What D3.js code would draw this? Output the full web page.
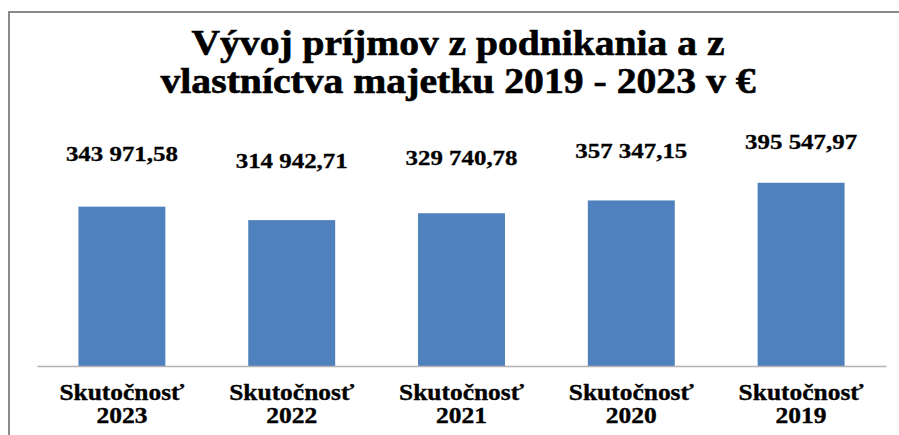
<!DOCTYPE html>
<html>
<head>
<meta charset="utf-8">
<script src="https://cdn.jsdelivr.net/npm/d3@7"></script>
<style>
  html, body { margin: 0; padding: 0; background: #fff; }
  svg { display: block; }
</style>
</head>
<body>
<svg id="chart" width="899" height="435"></svg>
<script>
const titleLines = ["Vývoj príjmov z podnikania a z", "vlastníctva majetku 2019 - 2023 v €"];
const categoryNames = ["Skutočnosť", "Skutočnosť", "Skutočnosť", "Skutočnosť", "Skutočnosť"];
const categoryYears = ["2023", "2022", "2021", "2020", "2019"];
const values = [343971.58, 314942.71, 329740.78, 357347.15, 395547.97];
const valueLabels = ["343 971,58", "314 942,71", "329 740,78", "357 347,15", "395 547,97"];

const W = 899, H = 435;
const svg = d3.select("#chart");

function styleText(sel, size, sw) {
  return sel
    .style("font-family", "'Liberation Serif'")
    .style("font-weight", "bold")
    .style("font-size", size + "px")
    .style("fill", "#000")
    .style("stroke", "#000")
    .style("stroke-width", sw);
}

// chart frame
svg.append("rect")
  .attr("x", 9).attr("y", 12)
  .attr("width", W + 20).attr("height", H + 20)
  .attr("fill", "#fff")
  .attr("stroke", "#8a8a8a")
  .attr("stroke-width", 2);

// title
const titleG = svg.append("g");
const titleWidths = [533, 595];
const titleBase = [55, 93];
titleLines.forEach((t, i) => {
  styleText(titleG.append("text"), 35, 0.6)
    .attr("x", 458).attr("y", titleBase[i])
    .attr("text-anchor", "middle")
    .attr("textLength", titleWidths[i])
    .attr("lengthAdjust", "spacingAndGlyphs")
    .text(t);
});

const x = d3.scaleBand()
  .domain(categoryYears)
  .range([37, 886])
  .paddingInner(0.488)
  .paddingOuter(0.244);

const y = d3.scaleLinear()
  .domain([0, 400000])
  .range([366, 180.7]);

// label placement scale (labels sit higher for larger values)
const yLabel = d3.scaleLinear()
  .domain([300000, 400000])
  .range([171.5, 148]);

const data = values.map((v, i) => ({ year: categoryYears[i], name: categoryNames[i], v, label: valueLabels[i] }));

// bars
svg.append("g").selectAll("rect")
  .data(data)
  .join("rect")
  .attr("x", d => x(d.year))
  .attr("y", d => y(d.v))
  .attr("width", x.bandwidth())
  .attr("height", d => y(0) - y(d.v))
  .attr("fill", "#4F81BD");

// axis line
const xAxis = d3.axisBottom(x).tickSize(0).tickFormat("");
const axisG = svg.append("g")
  .attr("transform", `translate(0,${y(0)})`)
  .call(xAxis);
axisG.select(".domain").attr("stroke", "#b3b3b3").attr("stroke-width", 1.5);

// category labels
const catG = svg.append("g");
data.forEach(d => {
  const cx = x(d.year) + x.bandwidth() / 2;
  styleText(catG.append("text"), 23.5, 0.35)
    .attr("x", cx).attr("y", 400)
    .attr("text-anchor", "middle")
    .attr("textLength", 125)
    .attr("lengthAdjust", "spacingAndGlyphs")
    .text(d.name);
  styleText(catG.append("text"), 23, 0.35)
    .attr("x", cx).attr("y", 423)
    .attr("text-anchor", "middle")
    .attr("textLength", 51)
    .attr("lengthAdjust", "spacingAndGlyphs")
    .text(d.year);
});

// value labels
styleText(svg.append("g").selectAll("text")
  .data(data)
  .join("text"), 21, 0.3)
  .attr("x", d => x(d.year) + x.bandwidth() / 2)
  .attr("y", d => yLabel(d.v))
  .attr("text-anchor", "middle")
  .attr("textLength", 112)
  .attr("lengthAdjust", "spacingAndGlyphs")
  .text(d => d.label);
</script>
</body>
</html>
